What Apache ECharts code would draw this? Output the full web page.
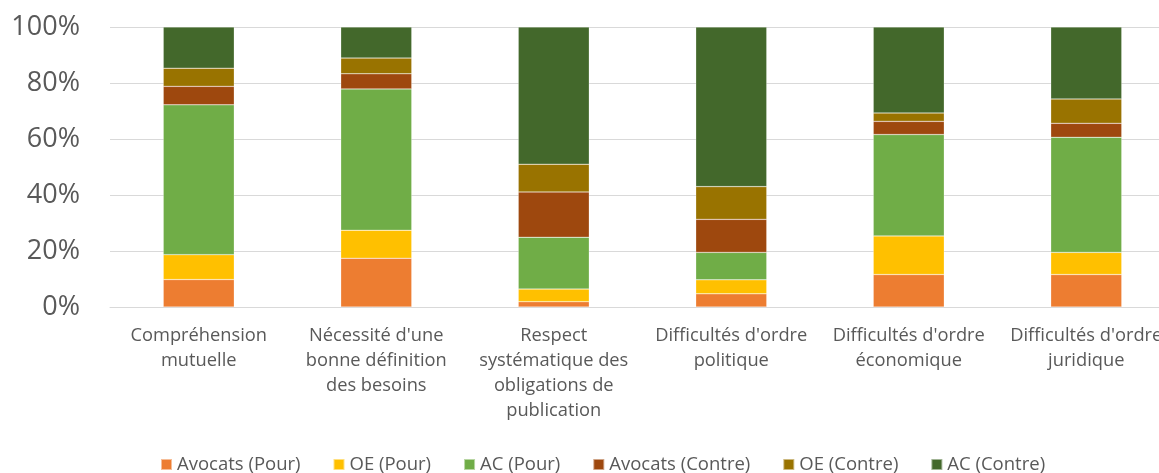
<!DOCTYPE html>
<html>
<head>
<meta charset="utf-8">
<script src="https://cdn.jsdelivr.net/npm/echarts@6/dist/echarts.min.js"></script>
<style>
  html, body { margin: 0; padding: 0; background: #fff; }
  #chart { width: 1159px; height: 473px; }
</style>
</head>
<body>
<div id="chart"></div>
<script>
var categories = [
  'Compréhension\nmutuelle',
  'Nécessité d\'une\nbonne définition\ndes besoins',
  'Respect\nsystématique des\nobligations de\npublication',
  'Difficultés d\'ordre\npolitique',
  'Difficultés d\'ordre\néconomique',
  'Difficultés d\'ordre\njuridique'
];

// parts in %, one value per category
var avocatsPour   = [9.8, 17.4, 1.9, 4.7, 11.6, 11.6];
var oePour        = [8.9, 10.0, 4.5, 5.0, 13.8, 7.9];
var acPour        = [53.5, 50.5, 18.5, 9.8, 36.2, 41.1];
var avocatsContre = [6.6, 5.4, 16.2, 11.8, 4.7, 5.0];
var oeContre      = [6.5, 5.6, 9.9, 11.7, 3.0, 8.7];
var acContre      = [14.7, 11.1, 49.0, 57.0, 30.7, 25.7];

var seriesNames = ['Avocats (Pour)', 'OE (Pour)', 'AC (Pour)', 'Avocats (Contre)', 'OE (Contre)', 'AC (Contre)'];
var seriesData = [avocatsPour, oePour, acPour, avocatsContre, oeContre, acContre];
var colors = ['#ED7D31', '#FFC000', '#70AD47', '#9E480E', '#997300', '#43682B'];

var myChart = echarts.init(document.getElementById('chart'));

var series = seriesNames.map(function (name, i) {
  return {
    name: name,
    type: 'bar',
    stack: 'total',
    barWidth: '40%',
    data: seriesData[i],
    itemStyle: {
      color: colors[i],
      borderColor: 'rgba(255,255,255,0.5)',
      borderWidth: 0.5
    }
  };
});

var option = {
  animation: false,
  color: colors,
  textStyle: { fontFamily: 'Open Sans' },
  grid: {
    left: 110,
    top: 27,
    width: 1065,
    bottom: 166,
    outerBoundsMode: 'none' // last label is cut off in the original
  },
  legend: {
    left: 155,
    top: 450,
    itemWidth: 11,
    itemHeight: 11,
    itemGap: 32,
    icon: 'rect',
    textStyle: {
      fontSize: 18.5,
      color: '#595959',
      fontFamily: 'Open Sans'
    },
    data: seriesNames
  },
  xAxis: {
    type: 'category',
    data: categories,
    axisLine: { lineStyle: { color: '#d9d9d9', width: 1 } },
    axisTick: { show: false },
    axisLabel: {
      interval: 0,
      margin: 16,
      fontSize: 18.3,
      lineHeight: 25,
      color: '#595959',
      fontFamily: 'Open Sans'
    }
  },
  yAxis: {
    type: 'value',
    min: 0,
    max: 100,
    interval: 20,
    axisLine: { show: false },
    axisTick: { show: false },
    axisLabel: {
      formatter: '{value}%',
      margin: 30,
      fontSize: 27,
      padding: [6, 0, 0, 0],
      color: '#595959',
      fontFamily: 'Open Sans'
    },
    splitLine: {
      lineStyle: { color: '#d9d9d9', width: 1 }
    }
  },
  series: series
};

myChart.setOption(option);
</script>
</body>
</html>
